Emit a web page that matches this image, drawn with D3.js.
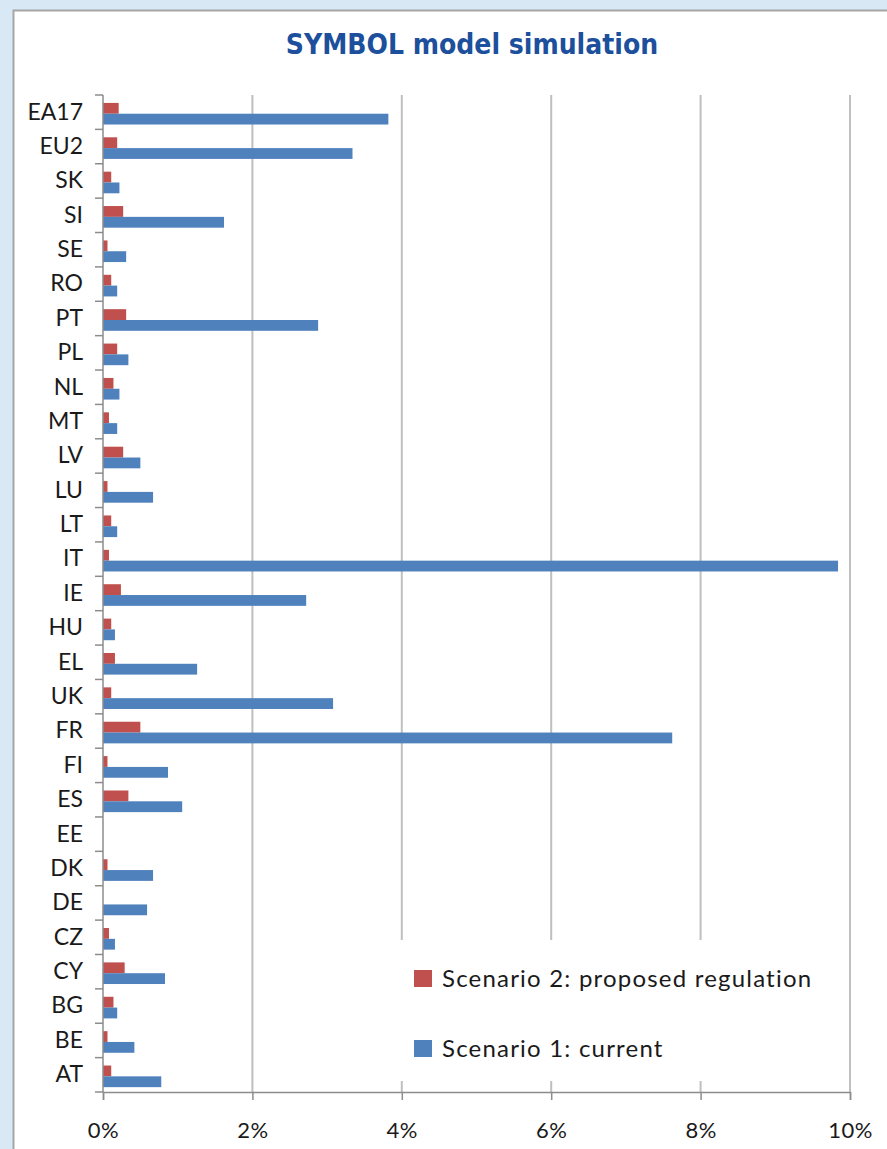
<!DOCTYPE html>
<html>
<head>
<meta charset="utf-8">
<script src="https://cdn.jsdelivr.net/npm/d3@7"></script>
<style>
  html, body { margin: 0; padding: 0; background: #d8e8f4; }
  svg { display: block; }
</style>
</head>
<body>
<div id="chart"></div>
<script>
// categories top to bottom, as in the picture
const countries = ['EA17', 'EU2', 'SK', 'SI', 'SE', 'RO', 'PT', 'PL', 'NL', 'MT', 'LV', 'LU', 'LT', 'IT',
  'IE', 'HU', 'EL', 'UK', 'FR', 'FI', 'ES', 'EE', 'DK', 'DE', 'CZ', 'CY', 'BG', 'BE', 'AT'];

// Scenario 2: proposed regulation (%)
const scenario2 = [0.21, 0.19, 0.11, 0.27, 0.06, 0.11, 0.31, 0.19, 0.14, 0.08, 0.27, 0.06, 0.11, 0.08,
  0.24, 0.11, 0.16, 0.11, 0.50, 0.06, 0.34, 0, 0.06, 0, 0.08, 0.29, 0.14, 0.06, 0.11];

// Scenario 1: current (%)
const scenario1 = [3.82, 3.34, 0.22, 1.62, 0.31, 0.19, 2.88, 0.34, 0.22, 0.19, 0.50, 0.67, 0.19, 9.84,
  2.72, 0.16, 1.26, 3.08, 7.62, 0.87, 1.06, 0, 0.67, 0.59, 0.16, 0.83, 0.19, 0.42, 0.78];

const xTicks = [0, 2, 4, 6, 8, 10];
const seriesNames = ['Scenario 2: proposed regulation', 'Scenario 1: current'];
const seriesColors = ['#c0504d', '#4f81bd'];

const W = 887, H = 1149;
const margin = { top: 95, right: 37, bottom: 57, left: 103 };
const width = W - margin.left - margin.right;
const height = H - margin.top - margin.bottom;

const root = d3.select('#chart').append('svg')
  .attr('width', W)
  .attr('height', H);

// white panel with gray frame
root.append('rect')
  .attr('x', 13.5)
  .attr('y', 10.5)
  .attr('width', 950)
  .attr('height', 1250)
  .attr('fill', '#fff')
  .attr('stroke', '#a6a6a6')
  .attr('stroke-width', 2);

root.append('text')
  .attr('x', 472)
  .attr('y', 54)
  .attr('text-anchor', 'middle')
  .style('font-family', '"DejaVu Sans Condensed", "DejaVu Sans", sans-serif')
  .style('font-weight', 'bold')
  .style('font-size', '28px')
  .style('fill', '#1c4f9c')
  .text('SYMBOL model simulation');

const svg = root.append('g')
  .attr('transform', `translate(${margin.left},${margin.top})`);

const x = d3.scaleLinear().domain([0, 10]).range([0, width]);
const y = d3.scaleBand().domain(countries).range([0, height]).padding(0);
const ySub = d3.scaleBand().domain([0, 1]).range([0, y.bandwidth()])
  .paddingInner(0).paddingOuter(0.59).align(0.62);

// gridlines
svg.append('g')
  .selectAll('line')
  .data(xTicks.filter(d => d > 0))
  .join('line')
  .attr('x1', d => x(d))
  .attr('x2', d => x(d))
  .attr('y1', 0)
  .attr('y2', height)
  .attr('stroke', '#bfbfbf')
  .attr('stroke-width', 2);

// bars
const rows = countries.map((c, i) => ({ c, vals: [scenario2[i], scenario1[i]] }));
const groups = svg.append('g')
  .selectAll('g')
  .data(rows)
  .join('g')
  .attr('transform', d => `translate(0,${y(d.c)})`);

groups.selectAll('rect')
  .data(d => d.vals.map((v, k) => ({ v, k })))
  .join('rect')
  .attr('x', x(0))
  .attr('y', d => ySub(d.k))
  .attr('width', d => x(d.v) - x(0))
  .attr('height', ySub.bandwidth())
  .attr('fill', d => seriesColors[d.k]);

// legend (white box hides gridlines behind it)
const legend = svg.append('g');
legend.append('rect')
  .attr('x', x(4) - 4)
  .attr('y', 845)
  .attr('width', x(10) - x(4) - 2)
  .attr('height', 141)
  .attr('fill', '#fff');

seriesNames.forEach((name, k) => {
  const ly = 875 + k * 70;
  legend.append('rect')
    .attr('x', 311)
    .attr('y', ly)
    .attr('width', 18)
    .attr('height', 17)
    .attr('fill', seriesColors[k]);
  legend.append('text')
    .attr('x', 339)
    .attr('y', ly + 17)
    .style('font-family', 'Lato, sans-serif')
    .style('font-size', '24px')
    .style('letter-spacing', '1.2px')
    .style('fill', '#1a1a1a')
    .text(name);
});

// x axis
const xAxis = svg.append('g')
  .attr('transform', `translate(0,${height})`)
  .call(d3.axisBottom(x).tickValues(xTicks).tickSize(8).tickPadding(22)
    .tickFormat(d => d + '%'));
xAxis.select('.domain').attr('stroke', '#8c8c8c').attr('stroke-width', 1.5);
xAxis.selectAll('.tick line').attr('stroke', '#8c8c8c').attr('stroke-width', 1.5);
xAxis.selectAll('text')
  .style('font-family', 'Lato, sans-serif')
  .style('font-size', '22px')
  .style('letter-spacing', '0.5px')
  .style('fill', '#1a1a1a');

// y axis: labels centered, ticks at category boundaries
const yAxis = svg.append('g')
  .call(d3.axisLeft(y).tickSize(0).tickPadding(20));
yAxis.select('.domain').remove();
yAxis.selectAll('text')
  .style('font-family', 'Lato, sans-serif')
  .style('font-size', '23px')
  .style('fill', '#1a1a1a');

const bounds = countries.map(c => y(c)).concat([y(countries[countries.length - 1]) + y.bandwidth()]);
svg.append('g')
  .selectAll('line')
  .data(bounds)
  .join('line')
  .attr('x1', -8)
  .attr('x2', 0)
  .attr('y1', d => d)
  .attr('y2', d => d)
  .attr('stroke', '#8c8c8c')
  .attr('stroke-width', 1.5);

svg.append('line')
  .attr('x1', 0)
  .attr('x2', 0)
  .attr('y1', 0)
  .attr('y2', height)
  .attr('stroke', '#8c8c8c')
  .attr('stroke-width', 1.5);
</script>
</body>
</html>
